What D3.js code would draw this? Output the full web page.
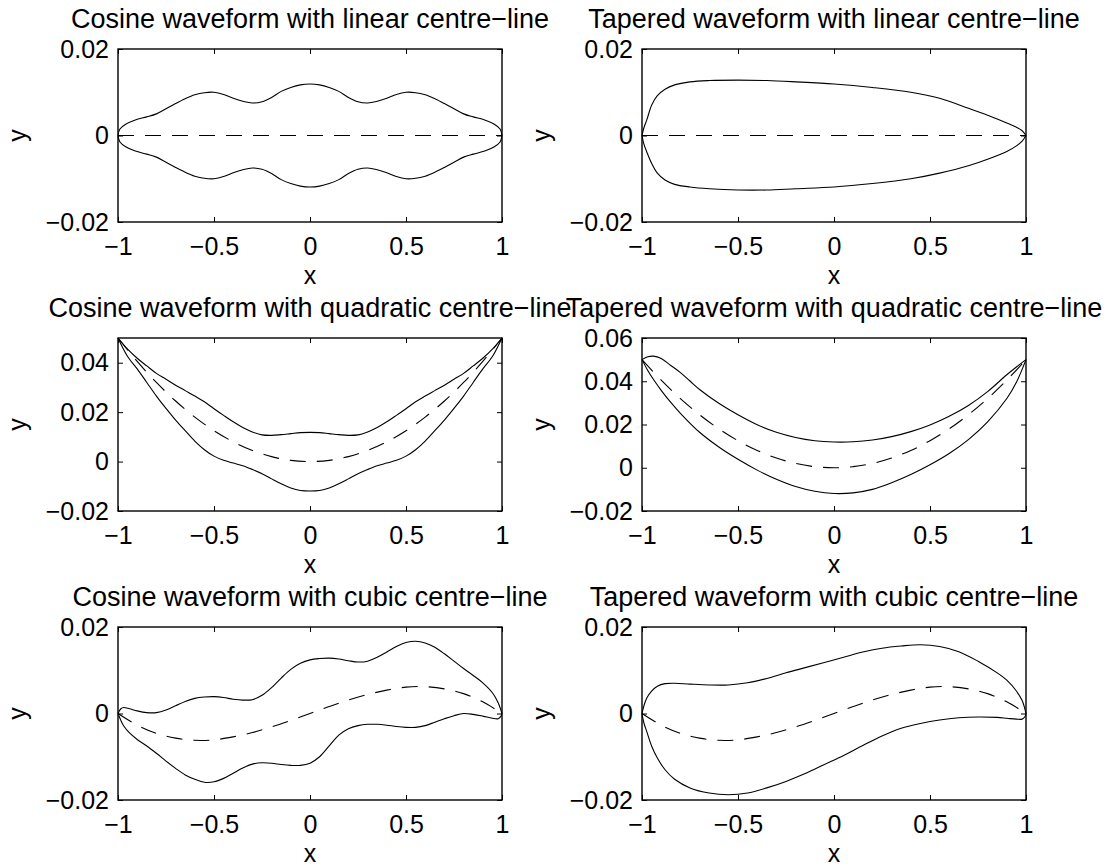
<!DOCTYPE html>
<html>
<head>
<meta charset="utf-8">
<script src="https://cdn.jsdelivr.net/npm/d3@7"></script>
<style>
  html, body { margin: 0; padding: 0; background: #fff; }
  svg { display: block; }
  text { font-family: "Liberation Sans", Arial, Helvetica, sans-serif; fill: #000; }
</style>
</head>
<body>
<svg id="canvas"></svg>
<script>
(() => {

    const WIDTH = 1110;
    const HEIGHT = 867;
    const PANEL_W = 384;
    const PANEL_H = 173;
    const COL_X = [118, 642];
    const ROW_Y = [49, 338, 627];
    const FONT_SIZE = 25;
    const TITLE_SIZE = 27;
    const TICK_LEN = 5;

    // tick values / labels
    const xTicks = [-1, -0.5, 0, 0.5, 1];
    const xTickLabels = ["\u22121", "\u22120.5", "0", "0.5", "1"];
    const yTicksSmall = [-0.02, 0, 0.02];
    const yTicksSmallLabels = ["\u22120.02", "0", "0.02"];
    const yTicksCosQuad = [-0.02, 0, 0.02, 0.04];
    const yTicksCosQuadLabels = ["\u22120.02", "0", "0.02", "0.04"];
    const yTicksTapQuad = [-0.02, 0, 0.02, 0.04, 0.06];
    const yTicksTapQuadLabels = ["\u22120.02", "0", "0.02", "0.04", "0.06"];

    const titles = [
        "Cosine waveform with linear centre\u2212line",
        "Tapered waveform with linear centre\u2212line",
        "Cosine waveform with quadratic centre\u2212line",
        "Tapered waveform with quadratic centre\u2212line",
        "Cosine waveform with cubic centre\u2212line",
        "Tapered waveform with cubic centre\u2212line"
    ];

    // centre-lines
    const linearCentre = [[-1, 0], [1, 0]];
    const quadraticCentre = [
        [-1, 0.05], [-0.9, 0.0405], [-0.8, 0.032], [-0.7, 0.0245], [-0.6, 0.018], [-0.5, 0.0125],
        [-0.4, 0.008], [-0.3, 0.0045], [-0.2, 0.002], [-0.1, 0.0005], [0, 0],
        [0.1, 0.0005], [0.2, 0.002], [0.3, 0.0045], [0.4, 0.008], [0.5, 0.0125],
        [0.6, 0.018], [0.7, 0.0245], [0.8, 0.032], [0.9, 0.0405], [1, 0.05]
    ];
    const cubicCentre = [
        [-1, 0], [-0.9, -0.0027], [-0.8, -0.0046], [-0.7, -0.0057], [-0.6, -0.0062], [-0.5, -0.0061],
        [-0.4, -0.0054], [-0.3, -0.0044], [-0.2, -0.0031], [-0.1, -0.0016], [0, 0],
        [0.1, 0.0016], [0.2, 0.0031], [0.3, 0.0044], [0.4, 0.0054], [0.5, 0.0061],
        [0.6, 0.0062], [0.7, 0.0057], [0.8, 0.0046], [0.9, 0.0027], [1, 0]
    ];

    // cosine waveform, linear centre-line
    const cosLinUpper = [
        [-1, 0], [-0.99, 0.0015], [-0.96, 0.0026], [-0.91, 0.0036], [-0.85, 0.0043], [-0.8, 0.005],
        [-0.75, 0.0062], [-0.7, 0.0074], [-0.65, 0.0085], [-0.6, 0.0094], [-0.55, 0.0099], [-0.5, 0.01],
        [-0.45, 0.0095], [-0.4, 0.0086], [-0.35, 0.0079], [-0.3, 0.0075], [-0.25, 0.0078], [-0.2, 0.0088],
        [-0.15, 0.0102], [-0.1, 0.0111], [-0.05, 0.0117], [0, 0.0119],
        [0.05, 0.0117], [0.1, 0.0111], [0.15, 0.0102], [0.2, 0.0088], [0.25, 0.0078], [0.3, 0.0075],
        [0.35, 0.0079], [0.4, 0.0086], [0.45, 0.0095], [0.5, 0.01], [0.55, 0.0099], [0.6, 0.0094],
        [0.65, 0.0085], [0.7, 0.0074], [0.75, 0.0062], [0.8, 0.005], [0.85, 0.0043], [0.91, 0.0036],
        [0.96, 0.0026], [0.99, 0.0015], [1, 0]
    ];
    const cosLinLower = [
        [-1, 0], [-0.99, -0.0015], [-0.96, -0.0026], [-0.91, -0.0036], [-0.85, -0.0043], [-0.8, -0.005],
        [-0.75, -0.0062], [-0.7, -0.0074], [-0.65, -0.0085], [-0.6, -0.0094], [-0.55, -0.0099], [-0.5, -0.01],
        [-0.45, -0.0095], [-0.4, -0.0086], [-0.35, -0.0079], [-0.3, -0.0075], [-0.25, -0.0078], [-0.2, -0.0088],
        [-0.15, -0.0102], [-0.1, -0.0111], [-0.05, -0.0117], [0, -0.0119],
        [0.05, -0.0117], [0.1, -0.0111], [0.15, -0.0102], [0.2, -0.0088], [0.25, -0.0078], [0.3, -0.0075],
        [0.35, -0.0079], [0.4, -0.0086], [0.45, -0.0095], [0.5, -0.01], [0.55, -0.0099], [0.6, -0.0094],
        [0.65, -0.0085], [0.7, -0.0074], [0.75, -0.0062], [0.8, -0.005], [0.85, -0.0043], [0.91, -0.0036],
        [0.96, -0.0026], [0.99, -0.0015], [1, 0]
    ];

    // tapered waveform, linear centre-line
    const tapLinUpper = [
        [-1, 0], [-0.99, 0.0018], [-0.975, 0.0036], [-0.95, 0.007], [-0.92, 0.0092], [-0.88, 0.0107],
        [-0.83, 0.0117], [-0.75, 0.0124], [-0.65, 0.0127], [-0.5, 0.0128], [-0.35, 0.0127], [-0.2, 0.0124],
        [0, 0.0119], [0.2, 0.0111], [0.4, 0.01], [0.55, 0.0086], [0.7, 0.0063], [0.8, 0.0047],
        [0.9, 0.0029], [0.95, 0.0019], [0.98, 0.0011], [1, 0]
    ];
    const tapLinLower = [
        [-1, 0], [-0.99, -0.002], [-0.975, -0.0038], [-0.95, -0.0064], [-0.92, -0.0087], [-0.88, -0.0103],
        [-0.83, -0.0113], [-0.75, -0.0119], [-0.65, -0.0123], [-0.5, -0.0126], [-0.35, -0.0126], [-0.2, -0.0123],
        [0, -0.0119], [0.2, -0.0111], [0.4, -0.01], [0.55, -0.0087], [0.7, -0.007], [0.8, -0.0055],
        [0.9, -0.0037], [0.95, -0.0024], [0.98, -0.0013], [1, 0]
    ];

    // cosine waveform, quadratic centre-line
    const cosQuadUpper = [
        [-1, 0.05], [-0.95, 0.0455], [-0.9, 0.0418], [-0.85, 0.0387], [-0.8, 0.0357], [-0.75, 0.0333],
        [-0.7, 0.0309], [-0.65, 0.0287], [-0.6, 0.0265], [-0.55, 0.0242], [-0.5, 0.0214], [-0.45, 0.0187],
        [-0.4, 0.0161], [-0.35, 0.0138], [-0.3, 0.012], [-0.25, 0.0108], [-0.2, 0.0106], [-0.15, 0.0109],
        [-0.1, 0.0113], [-0.05, 0.0117], [0, 0.0118],
        [0.05, 0.0117], [0.1, 0.0113], [0.15, 0.0109], [0.2, 0.0106], [0.25, 0.0108], [0.3, 0.012],
        [0.35, 0.0138], [0.4, 0.0161], [0.45, 0.0187], [0.5, 0.0214], [0.55, 0.0242], [0.6, 0.0265],
        [0.65, 0.0287], [0.7, 0.0309], [0.75, 0.0333], [0.8, 0.0357], [0.85, 0.0387], [0.9, 0.0418],
        [0.95, 0.0455], [1, 0.05]
    ];
    const cosQuadLower = [
        [-1, 0.05], [-0.95, 0.0425], [-0.9, 0.0375], [-0.85, 0.032], [-0.8, 0.0265], [-0.75, 0.0215],
        [-0.7, 0.0168], [-0.65, 0.0125], [-0.6, 0.0083], [-0.55, 0.0048], [-0.5, 0.0022], [-0.45, 0.0005],
        [-0.4, -0.0006], [-0.35, -0.0017], [-0.3, -0.0032], [-0.25, -0.0049], [-0.2, -0.007], [-0.15, -0.009],
        [-0.1, -0.0107], [-0.05, -0.0117], [0, -0.0119],
        [0.05, -0.0117], [0.1, -0.0107], [0.15, -0.009], [0.2, -0.007], [0.25, -0.0049], [0.3, -0.0032],
        [0.35, -0.0017], [0.4, -0.0006], [0.45, 0.0005], [0.5, 0.0022], [0.55, 0.0048], [0.6, 0.0083],
        [0.65, 0.0125], [0.7, 0.0168], [0.75, 0.0215], [0.8, 0.0265], [0.85, 0.032], [0.9, 0.0375],
        [0.95, 0.0425], [1, 0.05]
    ];

    // tapered waveform, quadratic centre-line
    const tapQuadUpper = [
        [-1, 0.05], [-0.97, 0.0513], [-0.94, 0.0516], [-0.9, 0.0505], [-0.85, 0.0473], [-0.8, 0.044],
        [-0.75, 0.0401], [-0.7, 0.0362], [-0.6, 0.0298], [-0.5, 0.0245], [-0.4, 0.0199], [-0.3, 0.0164],
        [-0.2, 0.014], [-0.1, 0.0125], [0, 0.0119], [0.1, 0.012], [0.2, 0.0128], [0.3, 0.0144],
        [0.4, 0.0167], [0.5, 0.0198], [0.6, 0.0238], [0.7, 0.0288], [0.8, 0.0352], [0.9, 0.043],
        [0.95, 0.0466], [1, 0.05]
    ];
    const tapQuadLower = [
        [-1, 0.05], [-0.97, 0.045], [-0.94, 0.0408], [-0.9, 0.0358], [-0.85, 0.0302], [-0.8, 0.0252],
        [-0.7, 0.0164], [-0.6, 0.0096], [-0.5, 0.0039], [-0.4, -0.0011], [-0.3, -0.0053], [-0.2, -0.0087],
        [-0.1, -0.0109], [0, -0.0119], [0.1, -0.0116], [0.2, -0.01], [0.3, -0.0069], [0.4, -0.0031],
        [0.5, 0.0014], [0.6, 0.0066], [0.7, 0.013], [0.8, 0.0212], [0.9, 0.032], [0.95, 0.0395], [1, 0.05]
    ];

    // cosine waveform, cubic centre-line
    const cosCubUpper = [
        [-1, 0], [-0.985, 0.0011], [-0.97, 0.0014], [-0.94, 0.0011], [-0.9, 0.0006], [-0.85, 0.0002],
        [-0.8, 0.0002], [-0.75, 0.0008], [-0.7, 0.0018], [-0.65, 0.0028], [-0.6, 0.0035], [-0.55, 0.0038],
        [-0.5, 0.0039], [-0.45, 0.0037], [-0.4, 0.0033], [-0.35, 0.0031], [-0.3, 0.0032], [-0.25, 0.0042],
        [-0.2, 0.006], [-0.15, 0.0082], [-0.1, 0.0102], [-0.05, 0.0116], [0, 0.0124], [0.05, 0.0127],
        [0.1, 0.0128], [0.15, 0.0126], [0.2, 0.0122], [0.25, 0.0119], [0.3, 0.0121], [0.35, 0.013],
        [0.4, 0.0142], [0.45, 0.0155], [0.5, 0.0164], [0.55, 0.0167], [0.6, 0.0163], [0.65, 0.0153],
        [0.7, 0.0138], [0.75, 0.0121], [0.8, 0.0104], [0.85, 0.0088], [0.9, 0.0071], [0.95, 0.0048],
        [0.98, 0.0025], [1, 0]
    ];
    const cosCubLower = [
        [-1, 0], [-0.985, -0.0016], [-0.97, -0.0029], [-0.94, -0.0045], [-0.9, -0.006], [-0.85, -0.0075],
        [-0.8, -0.0092], [-0.75, -0.011], [-0.7, -0.0127], [-0.65, -0.0142], [-0.6, -0.0152], [-0.55, -0.0159],
        [-0.5, -0.0158], [-0.45, -0.015], [-0.4, -0.0138], [-0.35, -0.0126], [-0.3, -0.0117], [-0.25, -0.0114],
        [-0.2, -0.0115], [-0.15, -0.0118], [-0.1, -0.012], [-0.05, -0.012], [0, -0.0115], [0.05, -0.01],
        [0.1, -0.0075], [0.15, -0.005], [0.2, -0.0035], [0.25, -0.0028], [0.3, -0.0025], [0.35, -0.0025],
        [0.4, -0.0027], [0.45, -0.003], [0.5, -0.0032], [0.55, -0.0032], [0.6, -0.0028], [0.65, -0.002],
        [0.7, -0.0012], [0.75, -0.0005], [0.8, 0], [0.85, -0.0002], [0.9, -0.0006], [0.95, -0.0011],
        [0.98, -0.0012], [0.995, -0.0006], [1, 0]
    ];

    // tapered waveform, cubic centre-line
    const tapCubUpper = [
        [-1, 0], [-0.99, 0.0018], [-0.975, 0.0036], [-0.95, 0.0052], [-0.92, 0.0063], [-0.88, 0.0069],
        [-0.83, 0.007], [-0.75, 0.0068], [-0.65, 0.0066], [-0.55, 0.0066], [-0.45, 0.0071], [-0.35, 0.0081],
        [-0.25, 0.0094], [-0.15, 0.0106], [-0.05, 0.0118], [0.05, 0.013], [0.15, 0.0142], [0.25, 0.0151],
        [0.35, 0.0156], [0.45, 0.0159], [0.55, 0.0155], [0.65, 0.0143], [0.75, 0.0121], [0.85, 0.0094],
        [0.9, 0.0077], [0.95, 0.0052], [0.98, 0.003], [1, 0]
    ];
    const tapCubLower = [
        [-1, 0], [-0.99, -0.0022], [-0.975, -0.0042], [-0.95, -0.0075], [-0.92, -0.0103], [-0.88, -0.013],
        [-0.83, -0.0152], [-0.75, -0.0172], [-0.65, -0.0184], [-0.55, -0.0188], [-0.45, -0.0184], [-0.35, -0.0172],
        [-0.25, -0.0157], [-0.15, -0.0139], [-0.05, -0.0118], [0.05, -0.0097], [0.15, -0.0074], [0.25, -0.0052],
        [0.35, -0.0034], [0.45, -0.0023], [0.55, -0.0015], [0.65, -0.001], [0.75, -0.0008], [0.85, -0.0009],
        [0.9, -0.0011], [0.95, -0.0013], [0.98, -0.0013], [0.995, -0.0007], [1, 0]
    ];

    const panels = [
        { title: titles[0], yDomain: [-0.02, 0.02], yTicks: yTicksSmall, yLabels: yTicksSmallLabels,
          curves: [cosLinUpper, cosLinLower], centre: linearCentre },
        { title: titles[1], yDomain: [-0.02, 0.02], yTicks: yTicksSmall, yLabels: yTicksSmallLabels,
          curves: [tapLinUpper, tapLinLower], centre: linearCentre },
        { title: titles[2], yDomain: [-0.02, 0.05], yTicks: yTicksCosQuad, yLabels: yTicksCosQuadLabels,
          curves: [cosQuadUpper, cosQuadLower], centre: quadraticCentre },
        { title: titles[3], yDomain: [-0.02, 0.06], yTicks: yTicksTapQuad, yLabels: yTicksTapQuadLabels,
          curves: [tapQuadUpper, tapQuadLower], centre: quadraticCentre },
        { title: titles[4], yDomain: [-0.02, 0.02], yTicks: yTicksSmall, yLabels: yTicksSmallLabels,
          curves: [cosCubUpper, cosCubLower], centre: cubicCentre },
        { title: titles[5], yDomain: [-0.02, 0.02], yTicks: yTicksSmall, yLabels: yTicksSmallLabels,
          curves: [tapCubUpper, tapCubLower], centre: cubicCentre }
    ];

    const svg = d3.select("#canvas")
        .attr("width", WIDTH)
        .attr("height", HEIGHT)
        .style("background", "#fff");

    function drawPanel(p, i) {
        let col = i % 2;
        let row = Math.floor(i / 2);
        let g = svg.append("g")
            .attr("class", "panel")
            .attr("transform", `translate(${COL_X[col]}, ${ROW_Y[row]})`);

        let x = d3.scaleLinear().domain([-1, 1]).range([0, PANEL_W]);
        let y = d3.scaleLinear().domain(p.yDomain).range([PANEL_H, 0]);
        let line = d3.line()
            .x(d => x(d[0]))
            .y(d => y(d[1]))
            .curve(d3.curveCatmullRom.alpha(0.5));

        // curves
        p.curves.forEach(c => {
            g.append("path")
                .attr("d", line(c))
                .attr("fill", "none")
                .attr("stroke", "#000")
                .attr("stroke-width", 1.1);
        });
        g.append("path")
            .attr("d", line(p.centre))
            .attr("fill", "none")
            .attr("stroke", "#000")
            .attr("stroke-width", 1.1)
            .attr("stroke-dasharray", "16,11");

        // axes, ticks pointing inwards
        let xFmt = (d, k) => xTickLabels[k];
        let yFmt = (d, k) => p.yLabels[k];
        let axes = [
            { ax: d3.axisBottom(x).tickValues(xTicks).tickFormat(xFmt).tickPadding(15), t: `translate(0,${PANEL_H})` },
            { ax: d3.axisTop(x).tickValues(xTicks).tickFormat(""), t: "translate(0,0)" },
            { ax: d3.axisLeft(y).tickValues(p.yTicks).tickFormat(yFmt).tickPadding(9), t: "translate(0,0)" },
            { ax: d3.axisRight(y).tickValues(p.yTicks).tickFormat(""), t: `translate(${PANEL_W},0)` }
        ];
        axes.forEach(a => {
            let ag = g.append("g")
                .attr("transform", a.t)
                .call(a.ax.tickSizeInner(-TICK_LEN).tickSizeOuter(0));
            ag.select(".domain").remove();
            ag.selectAll("line").attr("stroke", "#000").attr("stroke-width", 1);
            ag.selectAll("text")
                .attr("fill", "#000")
                .style("font-family", '"Liberation Sans", Arial, sans-serif')
                .style("font-size", FONT_SIZE + "px");
        });

        // box
        g.append("rect")
            .attr("width", PANEL_W)
            .attr("height", PANEL_H)
            .attr("fill", "none")
            .attr("stroke", "#000")
            .attr("stroke-width", 1.4);

        // texts
        g.append("text")
            .attr("x", PANEL_W / 2)
            .attr("y", -21)
            .attr("text-anchor", "middle")
            .style("font-size", TITLE_SIZE + "px")
            .text(p.title);
        g.append("text")
            .attr("x", PANEL_W / 2)
            .attr("y", PANEL_H + 62)
            .attr("text-anchor", "middle")
            .style("font-size", FONT_SIZE + "px")
            .text("x");
        g.append("text")
            .attr("transform", `translate(-92, ${PANEL_H / 2}) rotate(-90)`)
            .attr("text-anchor", "middle")
            .style("font-size", FONT_SIZE + "px")
            .text("y");
    }

    panels.forEach(drawPanel);

})();
</script>
</body>
</html>
